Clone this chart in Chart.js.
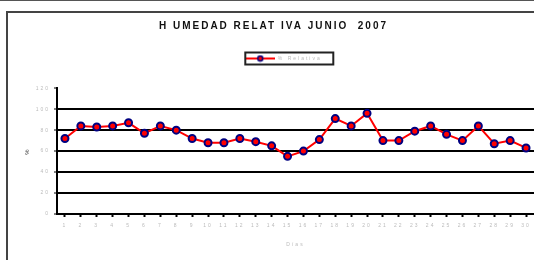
<!DOCTYPE html>
<html>
<head>
<meta charset="utf-8">
<script src="https://cdn.jsdelivr.net/npm/chart.js@4"></script>
<style>
    html, body { margin: 0; padding: 0; background: #fff; overflow: hidden; }
    #wrap { position: relative; width: 534px; height: 260px; overflow: hidden; }
    #topline { position: absolute; left: 0; top: 0; width: 534px; height: 1px; background: #555; }
    #frame { position: absolute; left: 6px; top: 11px; width: 540px; height: 260px; border: 2px solid #444; }
    canvas { position: absolute; left: 0; top: 0; }
</style>
</head>
<body>
<div id="wrap">
    <div id="topline"></div>
    <div id="frame"></div>
    <canvas id="humChart" width="540" height="260"></canvas>
</div>
<script>
const days = ['1', '2', '3', '4', '5', '6', '7', '8', '9', '10', '11', '12', '13', '14', '15',
    '16', '17', '18', '19', '20', '21', '22', '23', '24', '25', '26', '27', '28', '29', '30'];
const humedad = [72, 84, 83, 84, 87, 77, 84, 80, 72, 68, 68, 72, 69, 65, 55,
    60, 71, 91, 84, 96, 70, 70, 79, 84, 76, 70, 84, 67, 70, 63];
const yTicks = [0, 20, 40, 60, 80, 100, 120];

// legend sample: red line with the marker on it
const sample = document.createElement('canvas');
sample.width = 30;
sample.height = 8;
const sctx = sample.getContext('2d');
sctx.strokeStyle = '#ff0000';
sctx.lineWidth = 2;
sctx.beginPath();
sctx.moveTo(0, 4);
sctx.lineTo(30, 4);
sctx.stroke();
sctx.fillStyle = '#ff0000';
sctx.strokeStyle = '#000080';
sctx.lineWidth = 1.5;
sctx.beginPath();
sctx.arc(15, 4, 2.5, 0, Math.PI * 2);
sctx.fill();
sctx.stroke();

// spaced out lettering like the old excel export, and a box round the legend
const excelLook = {
    id: 'excelLook',
    beforeDraw(chart) { chart.ctx.letterSpacing = '2px'; },
    beforeDatasetsDraw(chart) { chart.ctx.letterSpacing = '0px'; },
    afterDraw(chart) {
        const lg = chart.legend;
        if (!lg || !lg.legendHitBoxes.length) return;
        const hb = lg.legendHitBoxes[0];
        const c = chart.ctx;
        c.save();
        c.strokeStyle = '#222';
        c.lineWidth = 2;
        c.strokeRect(hb.left, hb.top + hb.height / 2 - 6, 88, 12);
        c.restore();
    }
};

const ctx = document.getElementById('humChart').getContext('2d');
new Chart(ctx, {
    type: 'line',
    data: {
        labels: days,
        datasets: [{
            label: '% Relativa',
            data: humedad,
            borderColor: '#ff0000',
            borderWidth: 2,
            backgroundColor: '#ff0000',
            pointBackgroundColor: '#ff0000',
            pointBorderColor: '#000080',
            pointBorderWidth: 2,
            pointRadius: 3.5,
            tension: 0,
            fill: false,
        }],
    },
    options: {
        responsive: false,
        animation: false,
        layout: { padding: { left: 10, right: 3, top: 0, bottom: 0 } },
        plugins: {
            title: {
                display: true,
                text: 'H UMEDAD RELAT IVA JUNIO  2007',
                color: '#111',
                font: { family: 'Liberation Sans', size: 10, weight: 'bold' },
                padding: { top: 20, bottom: 18 },
            },
            legend: {
                position: 'top',
                weight: 1800,
                labels: {
                    usePointStyle: true,
                    pointStyleWidth: 30,
                    color: '#bbb',
                    font: { family: 'Liberation Sans', size: 5 },
                    padding: 6,
                    generateLabels: (chart) => [{
                        text: '% Relativa',
                        pointStyle: sample,
                        fontColor: '#bbb',
                        datasetIndex: 0,
                        hidden: false,
                    }],
                },
            },
            // empty spacer between legend and plot
            subtitle: {
                display: true,
                text: '',
                font: { size: 1 },
                padding: { top: 0, bottom: 16 },
            },
            tooltip: { enabled: false },
        },
        scales: {
            x: {
                offset: true,
                border: { color: '#000', width: 2 },
                grid: { display: true, drawOnChartArea: false, tickLength: 3, tickColor: '#000', tickWidth: 2 },
                ticks: { color: '#bbb', font: { family: 'Liberation Sans', size: 5 }, maxRotation: 0, autoSkip: false, padding: 6 },
                title: {
                    display: true,
                    text: 'Días',
                    color: '#bbb',
                    font: { family: 'Liberation Sans', size: 5 },
                    padding: { top: 8, bottom: 12 },
                },
                afterFit: (scale) => { scale.height = 46; },
            },
            y: {
                min: 0,
                max: 120,
                afterBuildTicks: (scale) => { scale.ticks = yTicks.map(v => ({ value: v })); },
                border: { color: '#000', width: 2 },
                grid: {
                    color: (c) => (c.tick && (c.tick.value === 120 || c.tick.value === 0)) ? 'rgba(0,0,0,0)' : '#000',
                    lineWidth: 2,
                    tickLength: 3,
                    tickColor: '#000',
                    tickWidth: 1,
                },
                ticks: { color: '#bbb', font: { family: 'Liberation Sans', size: 5 }, padding: 4 },
                title: {
                    display: true,
                    text: '%',
                    color: '#333',
                    font: { family: 'Liberation Sans', size: 6 },
                    padding: { top: 14, bottom: 4 },
                },
                afterFit: (scale) => { scale.width = 47; },
            },
        },
    },
    plugins: [excelLook],
});
</script>
</body>
</html>
